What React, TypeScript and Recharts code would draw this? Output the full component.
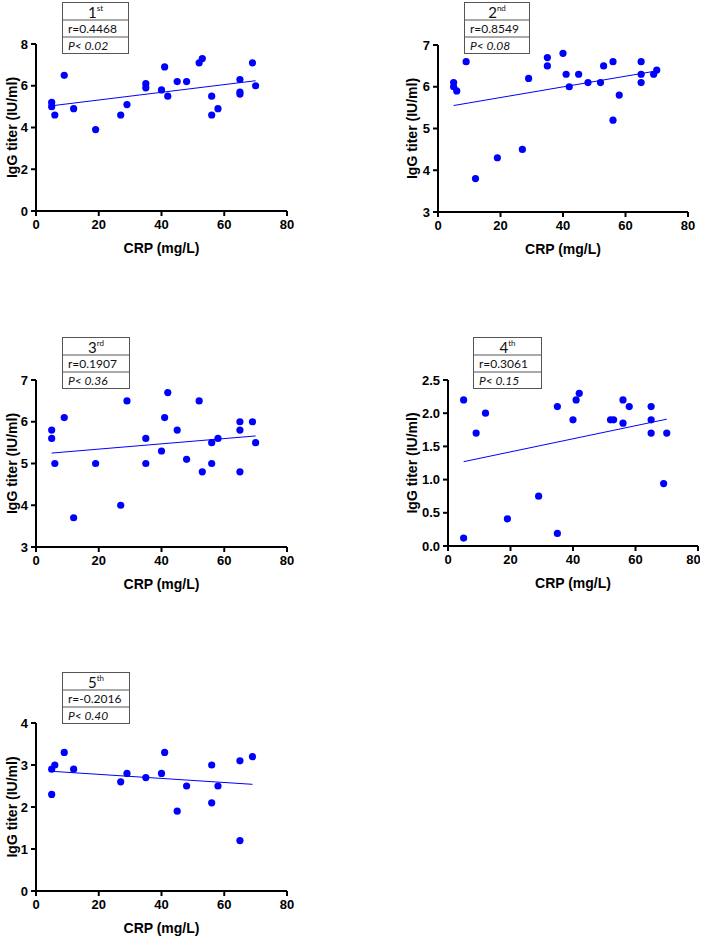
import React from "react";
import { ScatterChart, Scatter, XAxis, YAxis, ReferenceLine, Label } from "recharts";

// CRP (mg/L) vs IgG titer (IU/ml), five sampling rounds
const crpTicks = [0, 20, 40, 60, 80];

const crp1 = [5, 5, 6, 9, 12, 19, 27, 29, 35, 35, 40, 41, 42, 45, 48, 52, 53, 56, 56, 58, 65, 65, 65, 69, 70];
const igg1 = [5.2, 5.0, 4.6, 6.5, 4.9, 3.9, 4.6, 5.1, 6.1, 5.9, 5.8, 6.9, 5.5, 6.2, 6.2, 7.1, 7.3, 5.5, 4.6, 4.9, 6.3, 5.7, 5.6, 7.1, 6.0];
const fitX1 = [5, 70];
const fitY1 = [5.04, 6.24];
const yTicks1 = [0, 2, 4, 6, 8];

const crp2 = [5, 5, 6, 9, 12, 19, 27, 29, 35, 35, 40, 41, 42, 45, 48, 52, 53, 56, 56, 58, 65, 65, 65, 69, 70];
const igg2 = [6.1, 6.0, 5.9, 6.6, 3.8, 4.3, 4.5, 6.2, 6.7, 6.5, 6.8, 6.3, 6.0, 6.3, 6.1, 6.1, 6.5, 6.6, 5.2, 5.8, 6.6, 6.3, 6.1, 6.3, 6.4];
const fitX2 = [5, 70];
const fitY2 = [5.55, 6.38];
const yTicks2 = [3, 4, 5, 6, 7];

const crp3 = [5, 5, 6, 9, 12, 19, 27, 29, 35, 35, 40, 41, 42, 45, 48, 52, 53, 56, 56, 58, 65, 65, 65, 69, 70];
const igg3 = [5.8, 5.6, 5.0, 6.1, 3.7, 5.0, 4.0, 6.5, 5.6, 5.0, 5.3, 6.1, 6.7, 5.8, 5.1, 6.5, 4.8, 5.5, 5.0, 5.6, 6.0, 5.8, 4.8, 6.0, 5.5];
const fitX3 = [5, 70];
const fitY3 = [5.25, 5.66];
const yTicks3 = [3, 4, 5, 6, 7];

const crp4 = [5, 5, 9, 12, 19, 29, 35, 35, 40, 41, 42, 52, 53, 56, 56, 58, 65, 65, 65, 69, 70];
const igg4 = [2.2, 0.12, 1.7, 2.0, 0.41, 0.75, 2.1, 0.19, 1.9, 2.2, 2.3, 1.9, 1.9, 2.2, 1.85, 2.1, 2.1, 1.9, 1.7, 0.94, 1.7];
const fitX4 = [5, 70];
const fitY4 = [1.27, 1.91];
const yTicks4 = [0, 0.5, 1.0, 1.5, 2.0, 2.5];

const crp5 = [5, 5, 6, 9, 12, 27, 29, 35, 40, 41, 45, 48, 56, 56, 58, 65, 65, 69];
const igg5 = [2.9, 2.3, 3.0, 3.3, 2.9, 2.6, 2.8, 2.7, 2.8, 3.3, 1.9, 2.5, 3.0, 2.1, 2.5, 3.1, 1.2, 3.2];
const fitX5 = [5, 69];
const fitY5 = [2.85, 2.54];
const yTicks5 = [0, 1, 2, 3, 4];

const rounds = ["1", "2", "3", "4", "5"];
const ordinals = ["st", "nd", "rd", "th", "th"];
const rLabels = ["r=0.4468", "r=0.8549", "r=0.1907", "r=0.3061", "r=-0.2016"];
const pLabels = ["0.02", "0.08", "0.36", "0.15", "0.40"];

const BLUE = "#0000ff";
const W = 300;
const H = 270;

// layout: chart origin, plot box inside it, and the stats box (page coords)
const layouts = [
  { x: 0, y: 0, pl: 36, pt: 44, pr: 287, pb: 211, bx: 62, by: 2, bw: 67 },
  { x: 400, y: 0, pl: 38, pt: 45, pr: 288, pb: 212, bx: 464, by: 2, bw: 66 },
  { x: 0, y: 336, pl: 36, pt: 44, pr: 287, pb: 211, bx: 62, by: 337, bw: 68 },
  { x: 400, y: 336, pl: 48, pt: 44, pr: 298, pb: 210, bx: 473, by: 337, bw: 69 },
  { x: 0, y: 679, pl: 36, pt: 44, pr: 287, pb: 212, bx: 62, by: 672, bw: 68 },
];

const panels = [
  { xs: crp1, ys: igg1, fx: fitX1, fy: fitY1, ticks: yTicks1, dec: 0 },
  { xs: crp2, ys: igg2, fx: fitX2, fy: fitY2, ticks: yTicks2, dec: 0 },
  { xs: crp3, ys: igg3, fx: fitX3, fy: fitY3, ticks: yTicks3, dec: 0 },
  { xs: crp4, ys: igg4, fx: fitX4, fy: fitY4, ticks: yTicks4, dec: 1 },
  { xs: crp5, ys: igg5, fx: fitX5, fy: fitY5, ticks: yTicks5, dec: 0 },
];

const tickStyle = {
  fontFamily: "'Liberation Sans', Arial, sans-serif",
  fontSize: 13,
  fontWeight: 700,
  fill: "#000",
};

const titleStyle = {
  fontFamily: "'Liberation Sans', Arial, sans-serif",
  fontSize: 14,
  fontWeight: 700,
  fill: "#000",
};

const axisLine = { stroke: "#000", strokeWidth: 2 };

const Dot = (p: any) => <circle cx={p.cx} cy={p.cy} r={3.6} fill={BLUE} />;

function Panel({ idx }: { idx: number }) {
  const L = layouts[idx];
  const d = panels[idx];
  const data = d.xs.map((x, i) => ({ x, y: d.ys[i] }));
  const ticks = d.ticks;
  return (
    <div style={{ position: "absolute", left: L.x, top: L.y, width: W, height: H }}>
      <ScatterChart
        width={W}
        height={H}
        margin={{ top: L.pt, right: W - L.pr, left: 0, bottom: 0 }}
      >
        <XAxis
          type="number"
          dataKey="x"
          domain={[0, 80]}
          ticks={crpTicks}
          height={H - L.pb}
          axisLine={axisLine}
          tickLine={axisLine}
          tickSize={5}
          tickMargin={4}
          tick={tickStyle}
        >
          <Label
            content={(props: any) => {
              const vb = props.viewBox;
              return (
                <text
                  x={vb.x + vb.width / 2}
                  y={vb.y + 37}
                  textAnchor="middle"
                  dominantBaseline="central"
                  style={titleStyle}
                >
                  CRP (mg/L)
                </text>
              );
            }}
          />
        </XAxis>
        <YAxis
          type="number"
          dataKey="y"
          domain={[ticks[0], ticks[ticks.length - 1]]}
          ticks={ticks}
          width={L.pl}
          axisLine={axisLine}
          tickLine={axisLine}
          tickSize={5}
          tickMargin={3}
          tick={tickStyle}
          tickFormatter={(v: number) => v.toFixed(d.dec)}
        >
          <Label
            content={(props: any) => {
              const vb = props.viewBox;
              const cx = 12;
              const cy = vb.y + vb.height / 2;
              return (
                <text
                  x={cx}
                  y={cy}
                  transform={`rotate(-90 ${cx} ${cy})`}
                  textAnchor="middle"
                  dominantBaseline="central"
                  style={titleStyle}
                >
                  IgG titer (IU/ml)
                </text>
              );
            }}
          />
        </YAxis>
        <ReferenceLine
          segment={[
            { x: d.fx[0], y: d.fy[0] },
            { x: d.fx[1], y: d.fy[1] },
          ]}
          stroke={BLUE}
          strokeWidth={1}
          ifOverflow="visible"
        />
        <Scatter data={data} shape={Dot} isAnimationActive={false} />
      </ScatterChart>
    </div>
  );
}

function StatBox({ idx }: { idx: number }) {
  const L = layouts[idx];
  const font = "Lato, 'Open Sans', sans-serif";
  const row = { height: 15, lineHeight: "15px", paddingLeft: 5, fontSize: 12, color: "#111", whiteSpace: "nowrap" as const };
  return (
    <div
      style={{
        position: "absolute",
        left: L.bx,
        top: L.by,
        width: L.bw,
        border: "1px solid #555",
        background: "#fff",
        fontFamily: font,
        boxSizing: "border-box",
      }}
    >
      <div
        style={{
          height: 16,
          textAlign: "center",
          color: "#111",
          borderBottom: "2px solid #aaa",
          overflow: "hidden",
          whiteSpace: "nowrap",
        }}
      >
        <span style={{ fontSize: 15, lineHeight: "18px", display: "inline-block", verticalAlign: "top" }}>
          {rounds[idx]}
        </span>
        <span style={{ fontSize: 8, lineHeight: "10px", display: "inline-block", verticalAlign: "top" }}>
          {ordinals[idx]}
        </span>
      </div>
      <div style={{ ...row, borderBottom: "2px solid #aaa" }}>{rLabels[idx]}</div>
      <div style={{ ...row, fontStyle: "italic" }}>P&lt; {pLabels[idx]}</div>
    </div>
  );
}

export default function App() {
  return (
    <div
      style={{
        position: "absolute",
        left: 0,
        top: 0,
        width: 708,
        height: 938,
        background: "#fff",
        overflow: "hidden",
      }}
    >
      {panels.map((_, i) => (
        <Panel key={i} idx={i} />
      ))}
      {panels.map((_, i) => (
        <StatBox key={"b" + i} idx={i} />
      ))}
    </div>
  );
}
